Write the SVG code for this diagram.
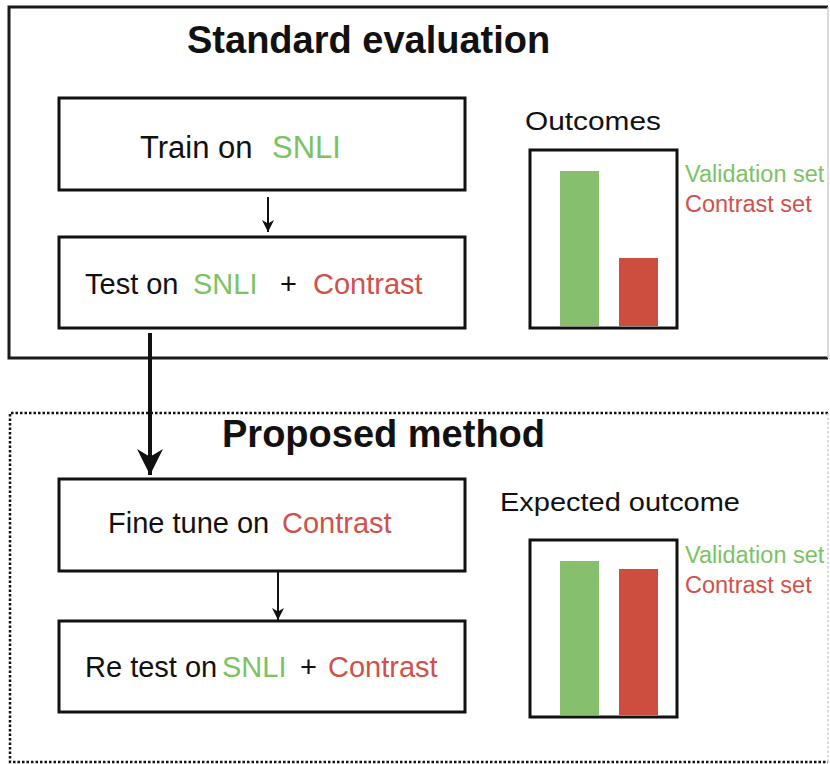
<svg xmlns="http://www.w3.org/2000/svg" width="830" height="764" viewBox="0 0 830 764">
<defs>
<style>
text{font-family:"Liberation Sans",Arial,sans-serif;fill:#111}
.title{font-weight:bold;font-size:38px}
.box{fill:#fff;stroke:#111;stroke-width:3}
.g{fill:#7cc263}
.r{fill:#d0514a}
.t31{font-size:31px}
.t29{font-size:29px}
.leg{font-size:23.5px}
.lab{font-size:25px}
.gbar{fill:#86c06c}
.rbar{fill:#cd4d3f}
.conn{stroke:#111;fill:none}
</style>
<marker id="ah" viewBox="0 0 10 10" refX="10" refY="5" markerWidth="6" markerHeight="6" markerUnits="strokeWidth" orient="auto">
<path d="M0,0 L10,5 L0,10 L3,5 Z" fill="#111"/>
</marker>
<marker id="ahb" viewBox="0 0 10 10" refX="10" refY="5" markerWidth="6.5" markerHeight="6.5" markerUnits="strokeWidth" orient="auto">
<path d="M0,0 L10,5 L0,10 L3,5 Z" fill="#111"/>
</marker>
</defs>
<rect width="830" height="764" fill="#fff"/>

<g id="standard-evaluation">
<path d="M828,7 L9,7 L9,358 L828,358" fill="none" stroke="#1a1a1a" stroke-width="3"/>
<line x1="828" y1="7" x2="828" y2="358" stroke="#cfcfcf" stroke-width="1.5"/>
<text class="title" x="187" y="53">Standard evaluation</text>
</g>

<g id="proposed-method">
<path d="M828,413 L10,413 L10,762 L828,762" fill="none" stroke="#111" stroke-width="2.5" stroke-dasharray="2.5 2"/>
<line x1="828" y1="413" x2="828" y2="762" stroke="#cfcfcf" stroke-width="1.5" stroke-dasharray="2.5 2"/>
<text class="title" x="222" y="447">Proposed method</text>
</g>

<g id="train">
<rect class="box" x="59" y="98" width="406" height="92"/>
<text class="t31" x="140" y="158">Train on</text>
<text class="t31 g" x="272" y="158">SNLI</text>
</g>

<g id="test">
<rect class="box" x="59" y="237" width="406" height="91"/>
<text class="t29" x="85" y="294">Test on</text>
<text class="t29 g" x="193" y="294">SNLI</text>
<text class="t29" x="280" y="294">+</text>
<text class="t29 r" x="313" y="294">Contrast</text>
</g>

<g id="finetune">
<rect class="box" x="59" y="479" width="406" height="92"/>
<text class="t29" x="108" y="533">Fine tune on</text>
<text class="t29 r" x="282" y="533">Contrast</text>
</g>

<g id="retest">
<rect class="box" x="59" y="621" width="406" height="91"/>
<text class="t29" x="85" y="677">Re test on</text>
<text class="t29 g" x="222" y="677">SNLI</text>
<text class="t29" x="300" y="677">+</text>
<text class="t29 r" x="328" y="677">Contrast</text>
</g>

<g id="outcomes">
<text class="lab" x="525" y="130" textLength="136" lengthAdjust="spacingAndGlyphs">Outcomes</text>
<rect class="box" x="530" y="150" width="147" height="178"/>
<rect class="gbar" x="560" y="171" width="39" height="155"/>
<rect class="rbar" x="619" y="258" width="39" height="68"/>
<text class="leg g" x="685" y="182">Validation set</text>
<text class="leg r" x="685" y="212">Contrast set</text>
</g>

<g id="expected-outcome">
<text class="lab" x="500" y="511" textLength="240" lengthAdjust="spacingAndGlyphs">Expected outcome</text>
<rect class="box" x="530" y="540" width="147" height="177"/>
<rect class="gbar" x="560" y="561" width="39" height="154"/>
<rect class="rbar" x="619" y="569" width="39" height="146"/>
<text class="leg g" x="685" y="563">Validation set</text>
<text class="leg r" x="685" y="593">Contrast set</text>
</g>

<g id="connectors">
<line class="conn" x1="268" y1="197" x2="268" y2="232" stroke-width="2" marker-end="url(#ah)"/>
<line class="conn" x1="150" y1="333" x2="150" y2="475" stroke-width="4" marker-end="url(#ahb)"/>
<line class="conn" x1="278" y1="572" x2="278" y2="620" stroke-width="2" marker-end="url(#ah)"/>
</g>
</svg>
